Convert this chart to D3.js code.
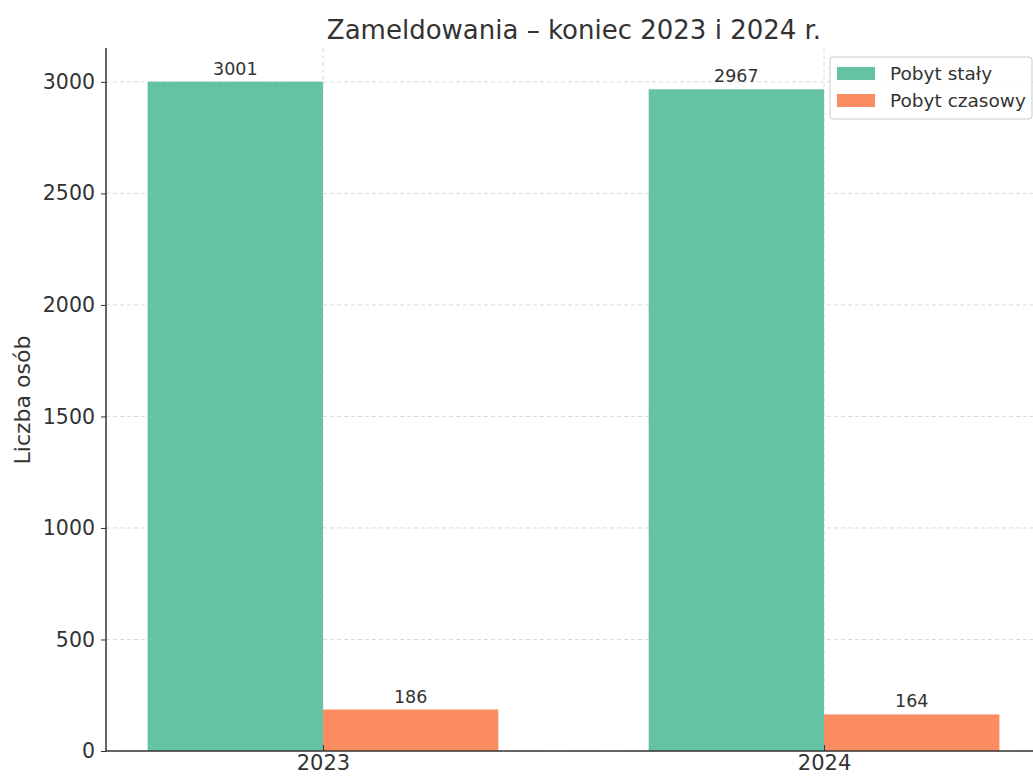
<!DOCTYPE html>
<html>
<head>
<meta charset="utf-8">
<script src="https://cdn.jsdelivr.net/npm/d3@7"></script>
<style>
  body { margin: 0; background: #fff; }
  text { font-family: "DejaVu Sans", sans-serif; fill: #333; }
</style>
</head>
<body>
<div id="chart"></div>
<script>
// data
const years = ["2023", "2024"];
const seriesNames = ["Pobyt stały", "Pobyt czasowy"];
const stale = [3001, 2967];
const czasowe = [186, 164];
const yTicks = [0, 500, 1000, 1500, 2000, 2500, 3000];
const colors = ["#66c2a5", "#fc8d62"];

const width = 1033, height = 776;
const margin = {top: 48, right: -8, bottom: 25, left: 106};
const innerW = width - margin.left - margin.right;
const innerH = height - margin.top - margin.bottom;

const svg = d3.select("#chart").append("svg")
    .attr("width", width)
    .attr("height", height);

const g = svg.append("g")
    .attr("transform", `translate(${margin.left},${margin.top})`);

// x as linear index scale, bars of width 0.35 either side of the tick
const barW = 0.35;
const x = d3.scaleLinear().domain([-0.433, 1.433]).range([0, innerW]);
const y = d3.scaleLinear().domain([0, 3152]).range([innerH, 0]);

// grid (dashed, behind bars)
g.append("g").selectAll("line")
    .data(yTicks)
    .enter().append("line")
    .attr("x1", 0).attr("x2", innerW)
    .attr("y1", d => y(d)).attr("y2", d => y(d))
    .attr("stroke", "#d0d0d0")
    .attr("stroke-dasharray", "4,3")
    .attr("stroke-width", 0.8);

g.append("g").selectAll("line")
    .data(years)
    .enter().append("line")
    .attr("x1", (d, i) => x(i)).attr("x2", (d, i) => x(i))
    .attr("y1", 0).attr("y2", innerH)
    .attr("stroke", "#d0d0d0")
    .attr("stroke-dasharray", "4,3")
    .attr("stroke-width", 0.8);

const series = [stale, czasowe];
series.forEach((vals, s) => {
    const off = s === 0 ? -barW : 0;
    g.append("g").selectAll("rect")
        .data(vals)
        .enter().append("rect")
        .attr("x", (d, i) => x(i + off))
        .attr("y", d => y(d))
        .attr("width", (d, i) => x(i + off + barW) - x(i + off))
        .attr("height", d => innerH - y(d))
        .attr("fill", colors[s]);

    g.append("g").selectAll("text")
        .data(vals)
        .enter().append("text")
        .attr("x", (d, i) => x(i + off + barW / 2))
        .attr("y", d => y(d) - 7)
        .attr("text-anchor", "middle")
        .attr("font-size", 17.5)
        .text(d => d);
});

// axes
const yAxis = d3.axisLeft(y).tickValues(yTicks).tickFormat(d3.format("d"))
    .tickSize(5).tickPadding(6);
const yg = g.append("g").call(yAxis);
yg.select(".domain").remove();
yg.selectAll("line").attr("stroke", "#333");
yg.selectAll("text").attr("font-size", 20.5).style("fill", "#333");

g.append("line")
    .attr("x1", 0).attr("x2", 0)
    .attr("y1", 0).attr("y2", innerH)
    .attr("stroke", "#333").attr("stroke-width", 1.5);

const xAxis = d3.axisBottom(x).tickValues([0, 1]).tickFormat(i => years[i])
    .tickSize(-6).tickPadding(8);
const xg = g.append("g").attr("transform", `translate(0,${innerH})`).call(xAxis);
xg.select(".domain").remove();
xg.selectAll("line").attr("stroke", "#333");
xg.selectAll("text").attr("font-size", 21).attr("dy", "0.52em").style("fill", "#333");

g.append("line")
    .attr("x1", 0).attr("x2", innerW)
    .attr("y1", innerH).attr("y2", innerH)
    .attr("stroke", "#333").attr("stroke-width", 1.5);

// title
svg.append("text")
    .attr("x", 574)
    .attr("y", 39)
    .attr("text-anchor", "middle")
    .attr("font-size", 26)
    .text("Zameldowania – koniec 2023 i 2024 r.");

// y label
svg.append("text")
    .attr("transform", "translate(30,400) rotate(-90)")
    .attr("text-anchor", "middle")
    .attr("font-size", 22)
    .text("Liczba osób");

// legend
const lg = svg.append("g").attr("transform", "translate(830,57)");
lg.append("rect")
    .attr("width", 202).attr("height", 62)
    .attr("rx", 3)
    .attr("fill", "#fff").attr("fill-opacity", 0.85)
    .attr("stroke", "#ccc");
seriesNames.forEach((n, i) => {
    lg.append("rect")
        .attr("x", 7).attr("y", 10 + i * 27)
        .attr("width", 38).attr("height", 13)
        .attr("fill", colors[i]);
    lg.append("text")
        .attr("x", 60).attr("y", 23 + i * 27)
        .attr("font-size", 18.5)
        .text(n);
});
</script>
</body>
</html>
